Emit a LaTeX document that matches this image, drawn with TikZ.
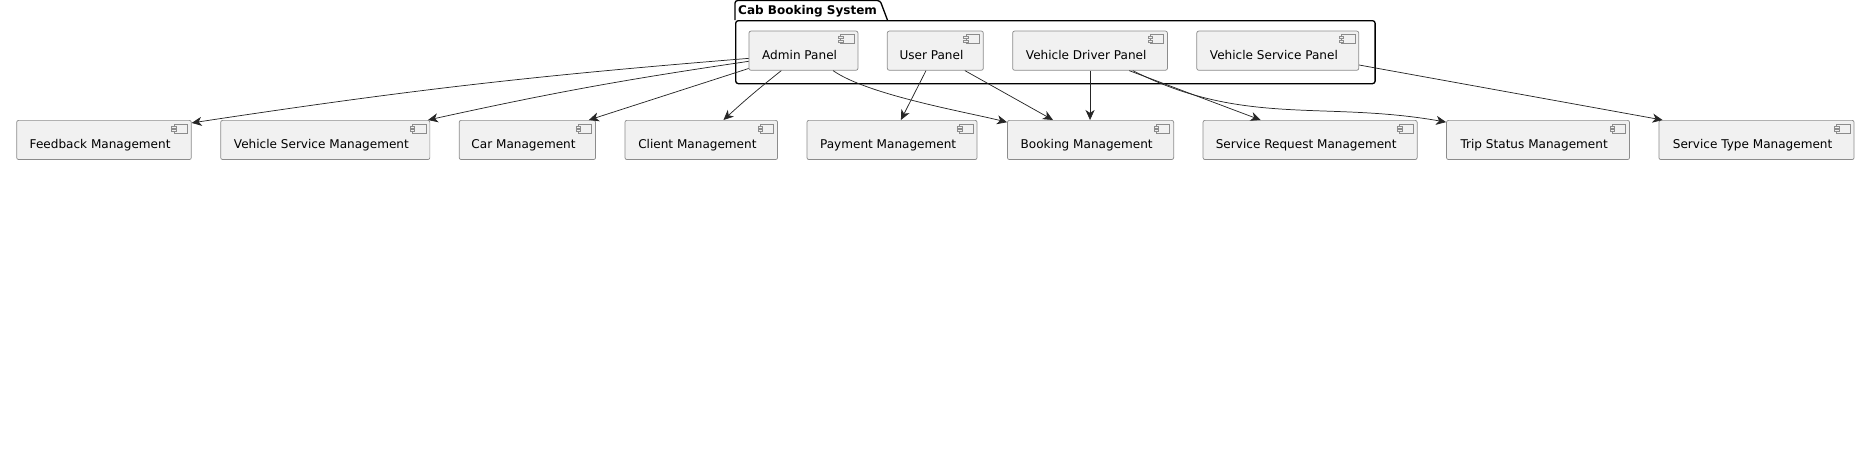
\documentclass[tikz,border=0pt]{standalone}
\usepackage{fontspec}
\setmainfont{DejaVu Sans}
\usepackage{tikz}
\usetikzlibrary{arrows.meta, positioning}

\begin{document}
\begin{tikzpicture}[x=.75pt, y=.75pt, node distance=21.45pt, font=\fontsize{9.05pt}{12pt}\selectfont]

% Define styles for the nodes
\tikzstyle{comp} = [rectangle, rounded corners=1.5pt, draw=boxline, fill=boxfill, line width=.55pt, inner xsep=0pt, inner ysep=0pt, text height=21pt, text depth=8.4pt, execute at begin node={\hspace{8pt}}, execute at end node={\hspace{13.8pt}}]
\tikzstyle{pkg} = [rectangle, rounded corners=2pt, draw=black, line width=1pt, minimum width=479.6pt, minimum height=47.25pt, inner sep=0pt]
\tikzstyle{flow} = [-{Stealth[length=7.5pt, width=6.8pt, inset=2.2pt]}, draw=black!85, line width=.55pt]
\colorlet{boxfill}{black!5.5}
\colorlet{boxline}{black!45}

\useasboundingbox (0,0) rectangle (1865,-464);

% Package
\node (sys) [pkg, anchor=north west] at (735,-20) {};
\node (tab) [anchor=south west, inner xsep=2.2pt, inner ysep=0pt, text height=10pt, text depth=4.2pt, font=\fontsize{9pt}{12pt}\selectfont\bfseries] at (sys.north west) {Cab Booking System};
\draw[line width=1pt, rounded corners=2pt] (tab.south west) -- (tab.north west) -- (tab.north east) -- ([xshift=5.5pt]tab.south east);

% Nodes
\node (adminp) [comp, minimum width=81.75pt, anchor=north west] at (748.6,-30.7) {Admin Panel};
\node (userp) [comp, minimum width=72pt, right=of adminp] {User Panel};
\node (driverp) [comp, minimum width=116.1pt, right=of userp] {Vehicle Driver Panel};
\node (servicep) [comp, minimum width=121.5pt, right=of driverp] {Vehicle Service Panel};

\node (feedback) [comp, minimum width=131pt, anchor=north west] at (16.3,-120) {Feedback Management};
\node (vehicle) [comp, minimum width=156.9pt, right=of feedback] {Vehicle Service Management};
\node (car) [comp, minimum width=102.3pt, right=of vehicle] {Car Management};
\node (client) [comp, minimum width=114.5pt, right=of car] {Client Management};
\node (payment) [comp, minimum width=127.6pt, right=of client] {Payment Management};
\node (booking) [comp, minimum width=124.7pt, right=22.2pt of payment] {Booking Management};
\node (request) [comp, minimum width=160.6pt, right=of booking] {Service Request Management};
\node (trip) [comp, minimum width=137.3pt, right=of request] {Trip Status Management};
\node (type) [comp, minimum width=146.4pt, right=of trip] {Service Type Management};

% Icons
\foreach \n in {adminp, userp, driverp, servicep, feedback, vehicle, car, client, payment, booking, request, trip, type} {
  \draw[draw=boxline, fill=boxfill, line width=.45pt] ([shift={(-13.3pt,-3pt)}]\n.north east) rectangle ([shift={(-3.2pt,-9.8pt)}]\n.north east);
  \draw[draw=boxline, fill=boxfill, line width=.45pt] ([shift={(-15pt,-4.4pt)}]\n.north east) rectangle ([shift={(-11.6pt,-5.9pt)}]\n.north east);
  \draw[draw=boxline, fill=boxfill, line width=.45pt] ([shift={(-15pt,-6.9pt)}]\n.north east) rectangle ([shift={(-11.6pt,-8.4pt)}]\n.north east);
}

% Arrows
\draw[flow, bend right=2] (adminp.188) to (feedback.11);
\draw[flow, bend right=2] (adminp.191) to (vehicle.11);
\draw[flow] (adminp.198.4) -- (car.18.5);
\draw[flow, bend right=2] (adminp.222.7) to (client.42);
\draw[flow, out=-35, in=166, looseness=.6] (adminp.-34.5) to (booking.168.5);
\draw[flow] (userp.245.5) -- (payment.66.6);
\draw[flow] (userp.-34.4) -- (booking.152.5);
\draw[flow] (driverp.south) -- (driverp.south |- booking.north);
\draw[flow] (driverp.-27.8) -- (request.158.8);
\draw[flow, out=-27, in=170] (driverp.-25.3) to (trip.169);
\draw[flow] (servicep.-10.4) -- (type.168.5);

\end{tikzpicture}
\end{document}
